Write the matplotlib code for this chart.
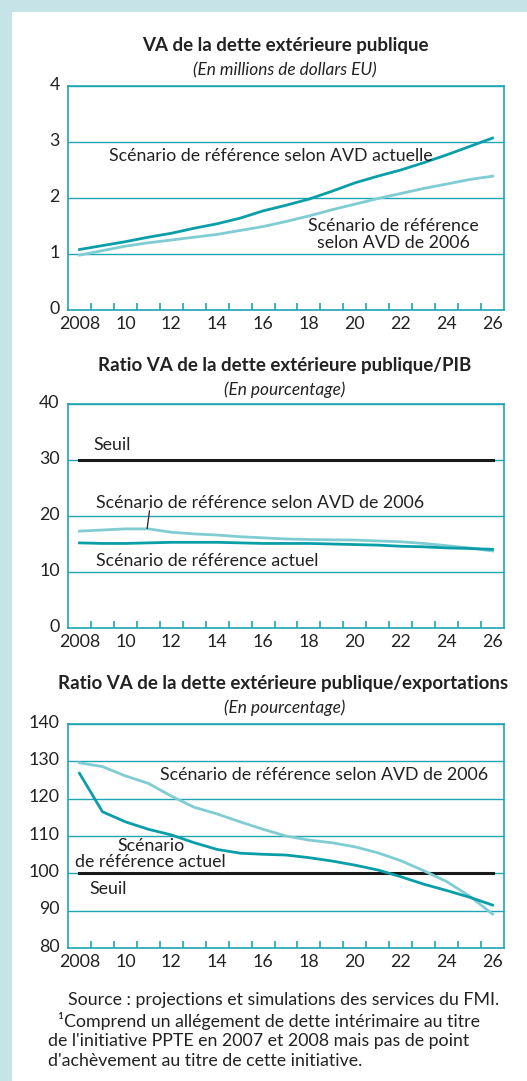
import numpy as np
from matplotlib import pyplot as plt
from matplotlib.patches import Rectangle
from matplotlib.transforms import ScaledTranslation

plt.rcParams['font.family'] = ['Lato', 'DejaVu Sans']

# donnees
annees = np.arange(2008, 2027)

va_actuel = [1.08, 1.15, 1.22, 1.30, 1.37, 1.46, 1.54, 1.64, 1.77, 1.87,
             1.98, 2.12, 2.27, 2.39, 2.50, 2.63, 2.77, 2.92, 3.07]
va_2006 = [0.98, 1.06, 1.14, 1.20, 1.25, 1.30, 1.35, 1.42, 1.49, 1.58,
           1.68, 1.79, 1.89, 1.99, 2.08, 2.17, 2.25, 2.33, 2.39]

pib_actuel = [15.2, 15.1, 15.1, 15.2, 15.3, 15.3, 15.3, 15.2, 15.1, 15.1,
              15.1, 15.0, 14.9, 14.8, 14.6, 14.5, 14.3, 14.2, 14.05]
pib_2006 = [17.3, 17.5, 17.7, 17.7, 17.1, 16.8, 16.6, 16.3, 16.1, 15.9,
            15.8, 15.75, 15.7, 15.55, 15.4, 15.1, 14.7, 14.3, 13.75]
pib_seuil = 30

exp_actuel = [126.8, 116.5, 113.8, 111.8, 110.3, 108.2, 106.4, 105.4, 105.1, 104.9,
              104.2, 103.3, 102.2, 100.9, 99.1, 97.1, 95.4, 93.6, 91.5]
exp_2006 = [129.6, 128.6, 126.1, 124.1, 120.7, 117.7, 115.9, 113.8, 111.8, 110.0,
            108.9, 108.2, 107.1, 105.5, 103.4, 100.7, 97.8, 93.9, 89.1]
exp_seuil = 100

c_actuel = '#0a9ea9'
c_2006 = '#80ccd3'
c_cadre = '#1fa6b2'
c_fond = '#c6e4e8'
c_texte = '#222222'

fs_titre = 13.5
fs_sous = 12.4
fs_txt = 12.8

fig = plt.figure(figsize=(5.27, 10.81), dpi=100, facecolor=c_fond)
fig.patches.append(Rectangle((12 / 527, 0), 1, 1 - 12 / 1081, transform=fig.transFigure,
                             facecolor='white', edgecolor='none', zorder=-10))


def panneau(bas, ymin, ymax, ypas):
    ax = fig.add_axes([68 / 527, bas, 436 / 527, 224 / 1081])
    ax.set_xlim(2007.5, 2026.5)
    ax.set_ylim(ymin, ymax)
    ax.set_xticks(np.arange(2008, 2027, 2))
    ax.set_xticklabels(['2008'] + [str(a)[2:] for a in range(2010, 2027, 2)])
    ax.set_xticks(np.arange(2008.5, 2026, 1), minor=True)
    ax.set_yticks(np.arange(ymin, ymax + 1, ypas))
    ax.tick_params(axis='x', which='major', length=0, pad=4, labelsize=fs_txt, colors=c_texte)
    ax.tick_params(axis='x', which='minor', direction='in', length=5, width=1.2, color=c_cadre)
    ax.tick_params(axis='y', length=0, pad=6, labelsize=fs_txt, colors=c_texte)
    for lab in ax.get_yticklabels():
        lab.set_transform(lab.get_transform() + ScaledTranslation(0, 3 / 100, fig.dpi_scale_trans))
    ax.grid(axis='y', color=c_cadre, linewidth=1)
    for s in ax.spines.values():
        s.set_color(c_cadre)
        s.set_linewidth(1.2)
    return ax


# 1 - VA de la dette
ax1 = panneau(1 - 310 / 1081, 0, 4, 1)
ax1.plot(annees, va_2006, color=c_2006, lw=2)
ax1.plot(annees, va_actuel, color=c_actuel, lw=2)
ax1.text(2009.3, 2.75, 'Scénario de référence selon AVD actuelle', fontsize=fs_txt,
         va='center', ha='left', color=c_texte)
ax1.text(2021.67, 1.35, 'Scénario de référence\nselon AVD de 2006', fontsize=fs_txt,
         va='center', ha='center', color=c_texte, linespacing=1.1)
fig.text(285 / 527, 1 - 45 / 1081, 'VA de la dette extérieure publique',
         fontsize=fs_titre, fontweight='bold', ha='center', va='center', color=c_texte)
fig.text(285 / 527, 1 - 70 / 1081, '(En millions de dollars EU)',
         fontsize=fs_sous, style='italic', ha='center', va='center', color=c_texte)

# 2 - ratio / PIB
ax2 = panneau(1 - 628 / 1081, 0, 40, 10)
ax2.plot([2008, 2026], [pib_seuil, pib_seuil], color='#1a1a1a', lw=2.2)
ax2.plot(annees, pib_2006, color=c_2006, lw=2)
ax2.plot(annees, pib_actuel, color=c_actuel, lw=2)
ax2.plot([2011.05, 2010.95], [20.9, 17.8], color=c_texte, lw=0.9)
ax2.text(2008.6, 32.7, 'Seuil', fontsize=fs_txt, va='center', ha='left', color=c_texte)
ax2.text(2008.7, 22.3, 'Scénario de référence selon AVD de 2006', fontsize=fs_txt,
         va='center', ha='left', color=c_texte)
ax2.text(2008.7, 12.0, 'Scénario de référence actuel', fontsize=fs_txt,
         va='center', ha='left', color=c_texte)
fig.text(285 / 527, 1 - 365 / 1081, 'Ratio VA de la dette extérieure publique/PIB',
         fontsize=fs_titre, fontweight='bold', ha='center', va='center', color=c_texte)
fig.text(285 / 527, 1 - 390 / 1081, '(En pourcentage)',
         fontsize=fs_sous, style='italic', ha='center', va='center', color=c_texte)

# 3 - ratio / exportations
ax3 = panneau(1 - 948 / 1081, 80, 140, 10)
ax3.plot([2008, 2026], [exp_seuil, exp_seuil], color='#1a1a1a', lw=2.2)
ax3.plot(annees, exp_2006, color=c_2006, lw=2)
ax3.plot(annees, exp_actuel, color=c_actuel, lw=2)
ax3.text(2011.53, 126.3, 'Scénario de référence selon AVD de 2006', fontsize=fs_txt,
         va='center', ha='left', color=c_texte)
ax3.text(2011.1, 105.3, 'Scénario\nde référence actuel', fontsize=fs_txt,
         va='center', ha='center', color=c_texte, linespacing=1.0)
ax3.text(2008.43, 95.8, 'Seuil', fontsize=fs_txt, va='center', ha='left', color=c_texte)
fig.text(283 / 527, 1 - 684 / 1081, 'Ratio VA de la dette extérieure publique/exportations',
         fontsize=fs_titre, fontweight='bold', ha='center', va='center', color=c_texte)
fig.text(285 / 527, 1 - 708 / 1081, '(En pourcentage)',
         fontsize=fs_sous, style='italic', ha='center', va='center', color=c_texte)

# notes
fig.text(68 / 527, 1 - 1000 / 1081, 'Source : projections et simulations des services du FMI.',
         fontsize=fs_txt, ha='left', va='center', color=c_texte)
fig.text(58 / 527, 1 - 1021 / 1081, '¹Comprend un allégement de dette intérimaire au titre',
         fontsize=fs_txt, ha='left', va='center', color=c_texte)
fig.text(48 / 527, 1 - 1041 / 1081, "de l'initiative PPTE en 2007 et 2008 mais pas de point",
         fontsize=fs_txt, ha='left', va='center', color=c_texte)
fig.text(48 / 527, 1 - 1061 / 1081, "d'achèvement au titre de cette initiative.",
         fontsize=fs_txt, ha='left', va='center', color=c_texte)

plt.savefig('out.png', dpi=100, facecolor=fig.get_facecolor())
